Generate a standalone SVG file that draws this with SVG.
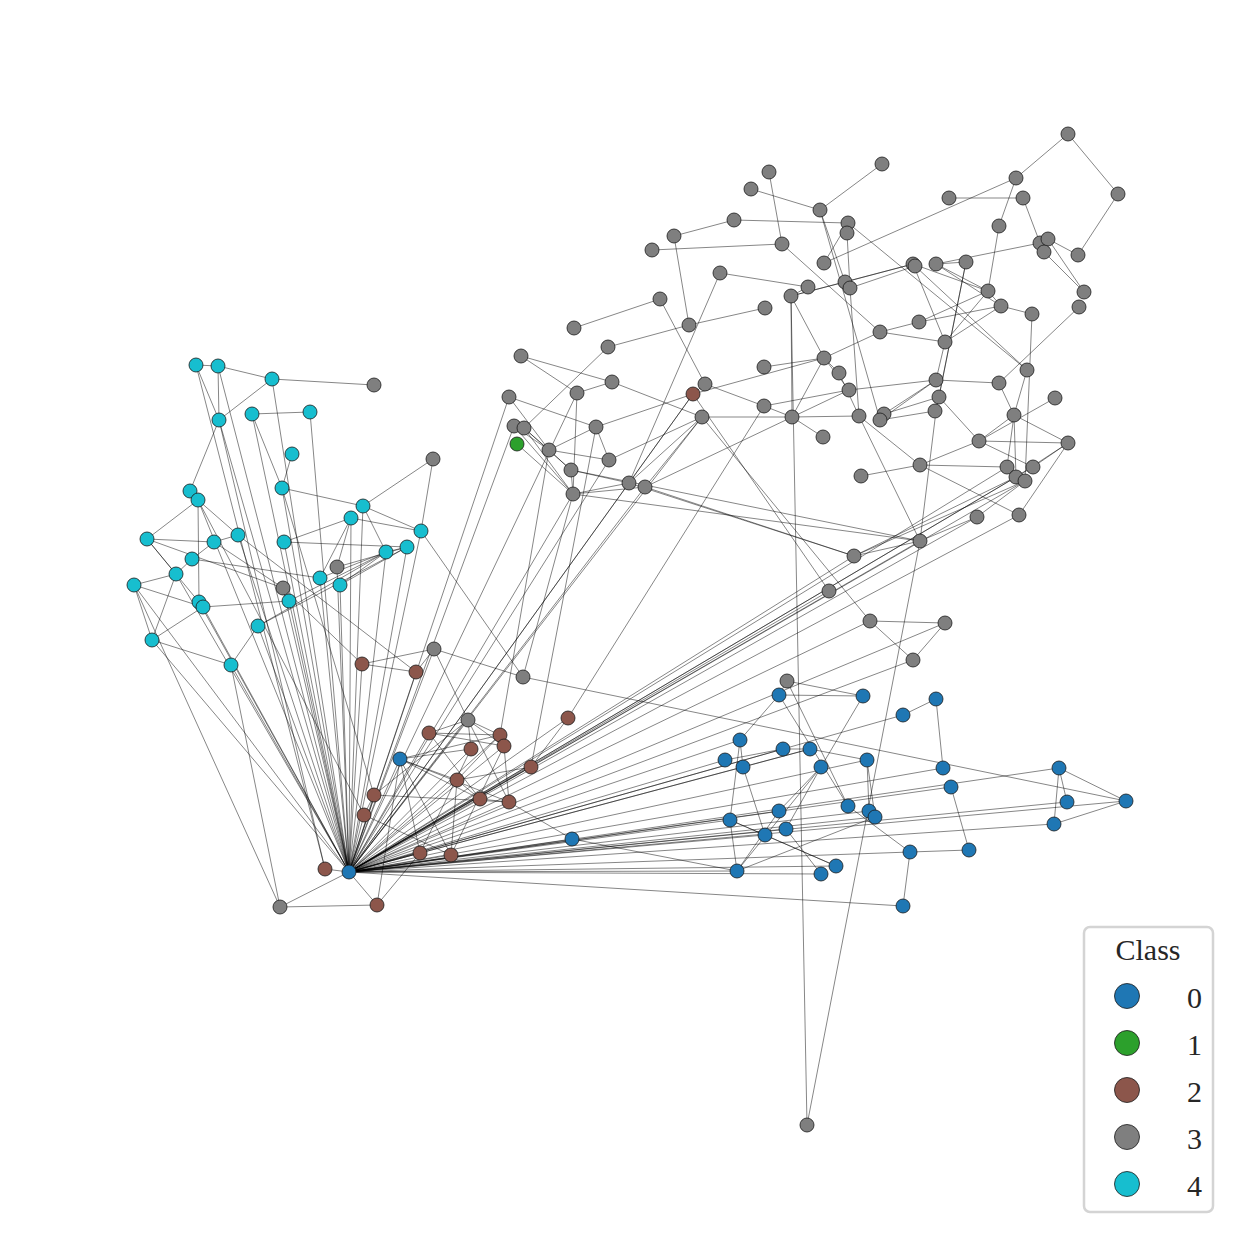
<svg xmlns="http://www.w3.org/2000/svg" width="1260" height="1260" viewBox="0 0 1260 1260">
<style>
.e line{stroke:#000;stroke-opacity:0.5;stroke-width:0.95}
.n circle{stroke:#1a1a1a;stroke-width:0.8}
.k0{fill:#1f77b4}.k1{fill:#2ca02c}.k2{fill:#8c564b}.k3{fill:#7f7f7f}.k4{fill:#17becf}
.t{font-family:"Liberation Serif","Times New Roman",serif;font-size:30px;fill:#262626}
</style>
<rect width="1260" height="1260" fill="#fff"/>
<g id="edges" class="e">
<line x1="196" y1="365" x2="218" y2="366"/><line x1="196" y1="365" x2="219" y2="420"/><line x1="218" y1="366" x2="219" y2="420"/><line x1="218" y1="366" x2="272" y2="379"/><line x1="218" y1="366" x2="349" y2="872"/><line x1="196" y1="365" x2="325" y2="869"/>
<line x1="272" y1="379" x2="374" y2="385"/><line x1="272" y1="379" x2="219" y2="420"/><line x1="272" y1="379" x2="349" y2="872"/><line x1="219" y1="420" x2="190" y2="491"/><line x1="219" y1="420" x2="349" y2="872"/><line x1="219" y1="420" x2="325" y2="869"/>
<line x1="252" y1="414" x2="310" y2="412"/><line x1="252" y1="414" x2="282" y2="488"/><line x1="252" y1="414" x2="349" y2="872"/><line x1="310" y1="412" x2="349" y2="872"/><line x1="292" y1="454" x2="282" y2="488"/><line x1="282" y1="488" x2="363" y2="506"/><line x1="282" y1="488" x2="349" y2="872"/><line x1="282" y1="488" x2="374" y2="795"/>
<line x1="363" y1="506" x2="433" y2="459"/><line x1="363" y1="506" x2="421" y2="531"/><line x1="363" y1="506" x2="386" y2="552"/><line x1="363" y1="506" x2="349" y2="872"/><line x1="351" y1="518" x2="284" y2="542"/><line x1="351" y1="518" x2="421" y2="531"/><line x1="351" y1="518" x2="349" y2="872"/><line x1="351" y1="518" x2="320" y2="578"/>
<line x1="421" y1="531" x2="433" y2="459"/><line x1="421" y1="531" x2="523" y2="677"/><line x1="421" y1="531" x2="349" y2="872"/>
<line x1="190" y1="491" x2="198" y2="500"/><line x1="198" y1="500" x2="147" y2="539"/><line x1="198" y1="500" x2="238" y2="535"/><line x1="198" y1="500" x2="349" y2="872"/><line x1="198" y1="500" x2="199" y2="602"/><line x1="198" y1="500" x2="364" y2="815"/>
<line x1="147" y1="539" x2="214" y2="542"/><line x1="147" y1="539" x2="283" y2="588"/><line x1="147" y1="539" x2="176" y2="574"/><line x1="147" y1="539" x2="203" y2="607"/><line x1="214" y1="542" x2="238" y2="535"/><line x1="214" y1="542" x2="192" y2="559"/><line x1="214" y1="542" x2="283" y2="588"/>
<line x1="238" y1="535" x2="416" y2="672"/><line x1="238" y1="535" x2="349" y2="872"/><line x1="284" y1="542" x2="407" y2="547"/><line x1="284" y1="542" x2="349" y2="872"/><line x1="386" y1="552" x2="407" y2="547"/><line x1="386" y1="552" x2="258" y2="626"/><line x1="407" y1="547" x2="258" y2="626"/><line x1="386" y1="552" x2="349" y2="872"/><line x1="407" y1="547" x2="349" y2="872"/>
<line x1="192" y1="559" x2="176" y2="574"/><line x1="192" y1="559" x2="320" y2="578"/><line x1="176" y1="574" x2="134" y2="585"/><line x1="176" y1="574" x2="152" y2="640"/><line x1="176" y1="574" x2="349" y2="872"/><line x1="134" y1="585" x2="152" y2="640"/><line x1="134" y1="585" x2="203" y2="607"/><line x1="134" y1="585" x2="280" y2="907"/><line x1="134" y1="585" x2="349" y2="872"/>
<line x1="320" y1="578" x2="386" y2="552"/><line x1="340" y1="585" x2="386" y2="552"/><line x1="340" y1="585" x2="407" y2="547"/><line x1="320" y1="578" x2="349" y2="872"/><line x1="340" y1="585" x2="349" y2="872"/><line x1="289" y1="601" x2="203" y2="607"/><line x1="289" y1="601" x2="386" y2="552"/><line x1="289" y1="601" x2="349" y2="872"/>
<line x1="203" y1="607" x2="152" y2="640"/><line x1="199" y1="602" x2="349" y2="872"/><line x1="203" y1="607" x2="349" y2="872"/><line x1="258" y1="626" x2="231" y2="665"/><line x1="258" y1="626" x2="349" y2="872"/><line x1="152" y1="640" x2="231" y2="665"/><line x1="152" y1="640" x2="349" y2="872"/><line x1="231" y1="665" x2="280" y2="907"/><line x1="231" y1="665" x2="349" y2="872"/>
<line x1="337" y1="567" x2="351" y2="518"/><line x1="337" y1="567" x2="407" y2="547"/><line x1="337" y1="567" x2="349" y2="872"/><line x1="283" y1="588" x2="362" y2="664"/><line x1="283" y1="588" x2="349" y2="872"/>
<line x1="362" y1="664" x2="434" y2="649"/><line x1="362" y1="664" x2="416" y2="672"/><line x1="362" y1="664" x2="349" y2="872"/><line x1="416" y1="672" x2="434" y2="649"/><line x1="416" y1="672" x2="349" y2="872"/><line x1="434" y1="649" x2="523" y2="677"/><line x1="434" y1="649" x2="468" y2="720"/><line x1="434" y1="649" x2="349" y2="872"/>
<line x1="523" y1="677" x2="1126" y2="801"/><line x1="523" y1="677" x2="573" y2="494"/>
<line x1="468" y1="720" x2="429" y2="733"/><line x1="468" y1="720" x2="500" y2="735"/><line x1="468" y1="720" x2="471" y2="749"/><line x1="468" y1="720" x2="509" y2="802"/><line x1="468" y1="720" x2="374" y2="795"/><line x1="468" y1="720" x2="349" y2="872"/><line x1="468" y1="720" x2="504" y2="746"/>
<line x1="568" y1="718" x2="531" y2="767"/><line x1="568" y1="718" x2="349" y2="872"/><line x1="568" y1="718" x2="764" y2="406"/>
<line x1="429" y1="733" x2="500" y2="735"/><line x1="429" y1="733" x2="504" y2="746"/><line x1="429" y1="733" x2="480" y2="799"/><line x1="429" y1="733" x2="349" y2="872"/><line x1="500" y1="735" x2="457" y2="780"/><line x1="500" y1="735" x2="349" y2="872"/><line x1="504" y1="746" x2="509" y2="802"/><line x1="504" y1="746" x2="451" y2="855"/><line x1="504" y1="746" x2="349" y2="872"/>
<line x1="471" y1="749" x2="420" y2="853"/><line x1="471" y1="749" x2="349" y2="872"/><line x1="531" y1="767" x2="349" y2="872"/><line x1="531" y1="767" x2="457" y2="780"/><line x1="457" y1="780" x2="480" y2="799"/><line x1="457" y1="780" x2="451" y2="855"/><line x1="457" y1="780" x2="349" y2="872"/>
<line x1="374" y1="795" x2="509" y2="802"/><line x1="374" y1="795" x2="349" y2="872"/><line x1="374" y1="795" x2="364" y2="815"/><line x1="480" y1="799" x2="509" y2="802"/><line x1="480" y1="799" x2="349" y2="872"/><line x1="509" y1="802" x2="572" y2="839"/><line x1="509" y1="802" x2="349" y2="872"/>
<line x1="364" y1="815" x2="349" y2="872"/><line x1="364" y1="815" x2="451" y2="855"/><line x1="420" y1="853" x2="349" y2="872"/><line x1="451" y1="855" x2="349" y2="872"/><line x1="325" y1="869" x2="349" y2="872"/><line x1="377" y1="905" x2="349" y2="872"/><line x1="377" y1="905" x2="280" y2="907"/><line x1="377" y1="905" x2="420" y2="853"/><line x1="377" y1="905" x2="400" y2="759"/><line x1="280" y1="907" x2="349" y2="872"/>
<line x1="400" y1="759" x2="349" y2="872"/><line x1="400" y1="759" x2="480" y2="799"/><line x1="400" y1="759" x2="509" y2="802"/><line x1="400" y1="759" x2="420" y2="853"/><line x1="400" y1="759" x2="451" y2="855"/><line x1="400" y1="759" x2="471" y2="749"/><line x1="400" y1="759" x2="500" y2="735"/><line x1="400" y1="759" x2="457" y2="780"/>
<line x1="572" y1="839" x2="349" y2="872"/><line x1="572" y1="839" x2="737" y2="871"/>
<line x1="509" y1="397" x2="349" y2="872"/><line x1="509" y1="397" x2="596" y2="427"/><line x1="509" y1="397" x2="549" y2="450"/><line x1="521" y1="356" x2="612" y2="382"/><line x1="521" y1="356" x2="577" y2="393"/><line x1="612" y1="382" x2="577" y2="393"/><line x1="612" y1="382" x2="702" y2="417"/>
<line x1="574" y1="328" x2="660" y2="299"/><line x1="608" y1="347" x2="689" y2="325"/><line x1="608" y1="347" x2="524" y2="428"/><line x1="689" y1="325" x2="765" y2="308"/><line x1="689" y1="325" x2="674" y2="236"/><line x1="660" y1="299" x2="705" y2="384"/>
<line x1="720" y1="273" x2="808" y2="287"/><line x1="720" y1="273" x2="629" y2="483"/><line x1="808" y1="287" x2="791" y2="296"/><line x1="791" y1="296" x2="913" y2="264"/><line x1="791" y1="296" x2="845" y2="282"/><line x1="791" y1="296" x2="792" y2="417"/><line x1="791" y1="296" x2="824" y2="358"/><line x1="791" y1="296" x2="807" y2="1125"/>
<line x1="764" y1="367" x2="824" y2="358"/><line x1="705" y1="384" x2="764" y2="406"/><line x1="705" y1="384" x2="693" y2="394"/><line x1="764" y1="406" x2="792" y2="417"/><line x1="764" y1="406" x2="849" y2="390"/><line x1="792" y1="417" x2="702" y2="417"/><line x1="792" y1="417" x2="859" y2="416"/><line x1="792" y1="417" x2="823" y2="437"/><line x1="792" y1="417" x2="824" y2="358"/>
<line x1="693" y1="394" x2="596" y2="427"/><line x1="693" y1="394" x2="824" y2="358"/><line x1="693" y1="394" x2="829" y2="591"/><line x1="693" y1="394" x2="349" y2="872"/><line x1="693" y1="394" x2="629" y2="483"/>
<line x1="702" y1="417" x2="609" y2="460"/><line x1="702" y1="417" x2="629" y2="483"/><line x1="702" y1="417" x2="645" y2="487"/><line x1="702" y1="417" x2="870" y2="621"/><line x1="702" y1="417" x2="349" y2="872"/>
<line x1="596" y1="427" x2="549" y2="450"/><line x1="596" y1="427" x2="609" y2="460"/><line x1="596" y1="427" x2="531" y2="767"/><line x1="549" y1="450" x2="609" y2="460"/><line x1="549" y1="450" x2="514" y2="426"/><line x1="549" y1="450" x2="524" y2="428"/><line x1="549" y1="450" x2="571" y2="470"/><line x1="549" y1="450" x2="500" y2="735"/>
<line x1="577" y1="393" x2="573" y2="494"/><line x1="577" y1="393" x2="349" y2="872"/><line x1="524" y1="428" x2="571" y2="470"/><line x1="524" y1="428" x2="573" y2="494"/><line x1="514" y1="426" x2="573" y2="494"/><line x1="517" y1="444" x2="573" y2="494"/><line x1="514" y1="426" x2="349" y2="872"/>
<line x1="571" y1="470" x2="629" y2="483"/><line x1="571" y1="470" x2="573" y2="494"/><line x1="571" y1="470" x2="920" y2="541"/><line x1="573" y1="494" x2="629" y2="483"/><line x1="573" y1="494" x2="645" y2="487"/><line x1="573" y1="494" x2="920" y2="541"/><line x1="573" y1="494" x2="349" y2="872"/>
<line x1="645" y1="487" x2="854" y2="556"/><line x1="629" y1="483" x2="854" y2="556"/><line x1="629" y1="483" x2="349" y2="872"/><line x1="645" y1="487" x2="349" y2="872"/><line x1="609" y1="460" x2="349" y2="872"/><line x1="645" y1="487" x2="849" y2="390"/>
<line x1="882" y1="164" x2="820" y2="210"/><line x1="751" y1="189" x2="820" y2="210"/><line x1="769" y1="172" x2="782" y2="244"/><line x1="734" y1="220" x2="848" y2="223"/><line x1="734" y1="220" x2="674" y2="236"/><line x1="652" y1="250" x2="782" y2="244"/><line x1="820" y1="210" x2="845" y2="282"/><line x1="820" y1="210" x2="880" y2="420"/>
<line x1="848" y1="223" x2="824" y2="263"/><line x1="848" y1="223" x2="1027" y2="370"/><line x1="847" y1="233" x2="850" y2="288"/><line x1="824" y1="263" x2="1016" y2="178"/><line x1="782" y1="244" x2="880" y2="332"/><line x1="845" y1="282" x2="913" y2="264"/><line x1="850" y1="288" x2="915" y2="266"/><line x1="850" y1="288" x2="859" y2="416"/>
<line x1="880" y1="332" x2="919" y2="322"/><line x1="880" y1="332" x2="945" y2="342"/><line x1="824" y1="358" x2="880" y2="332"/><line x1="824" y1="358" x2="839" y2="373"/><line x1="824" y1="358" x2="849" y2="390"/><line x1="839" y1="373" x2="859" y2="416"/><line x1="849" y1="390" x2="936" y2="380"/><line x1="936" y1="380" x2="884" y2="414"/><line x1="936" y1="380" x2="880" y2="420"/><line x1="939" y1="397" x2="884" y2="414"/><line x1="935" y1="411" x2="880" y2="420"/><line x1="945" y1="342" x2="936" y2="380"/><line x1="913" y1="264" x2="945" y2="342"/>
<line x1="1068" y1="134" x2="1016" y2="178"/><line x1="1068" y1="134" x2="1118" y2="194"/><line x1="1118" y1="194" x2="1078" y2="255"/><line x1="1016" y1="178" x2="999" y2="226"/><line x1="949" y1="198" x2="1023" y2="198"/><line x1="1023" y1="198" x2="1040" y2="243"/><line x1="999" y1="226" x2="988" y2="291"/><line x1="1040" y1="243" x2="936" y2="264"/>
<line x1="1048" y1="239" x2="1078" y2="255"/><line x1="1048" y1="239" x2="1084" y2="292"/><line x1="1044" y1="252" x2="1084" y2="292"/><line x1="913" y1="264" x2="988" y2="291"/><line x1="936" y1="264" x2="988" y2="291"/><line x1="988" y1="291" x2="1001" y2="306"/><line x1="936" y1="264" x2="1001" y2="306"/><line x1="1001" y1="306" x2="1032" y2="314"/><line x1="1032" y1="314" x2="1025" y2="481"/><line x1="1079" y1="307" x2="999" y2="383"/>
<line x1="988" y1="291" x2="919" y2="322"/><line x1="1001" y1="306" x2="919" y2="322"/><line x1="966" y1="262" x2="936" y2="264"/><line x1="966" y1="262" x2="939" y2="397"/><line x1="966" y1="262" x2="936" y2="411"/><line x1="1001" y1="306" x2="945" y2="342"/><line x1="988" y1="291" x2="945" y2="342"/><line x1="915" y1="266" x2="1027" y2="370"/>
<line x1="1027" y1="370" x2="1014" y2="415"/><line x1="999" y1="383" x2="936" y2="380"/><line x1="999" y1="383" x2="1014" y2="415"/><line x1="1055" y1="398" x2="979" y2="441"/><line x1="1014" y1="415" x2="979" y2="441"/><line x1="1014" y1="415" x2="1068" y2="443"/><line x1="1014" y1="415" x2="1007" y2="467"/><line x1="1014" y1="415" x2="1016" y2="477"/>
<line x1="979" y1="441" x2="1068" y2="443"/><line x1="979" y1="441" x2="939" y2="397"/><line x1="979" y1="441" x2="920" y2="465"/><line x1="979" y1="441" x2="1033" y2="467"/><line x1="1068" y1="443" x2="1033" y2="467"/><line x1="1068" y1="443" x2="1016" y2="477"/><line x1="1068" y1="443" x2="1019" y2="515"/>
<line x1="920" y1="465" x2="1007" y2="467"/><line x1="920" y1="465" x2="861" y2="476"/><line x1="920" y1="465" x2="859" y2="416"/><line x1="920" y1="465" x2="1019" y2="515"/><line x1="936" y1="411" x2="920" y2="541"/><line x1="859" y1="416" x2="920" y2="541"/><line x1="977" y1="517" x2="1025" y2="481"/><line x1="920" y1="541" x2="854" y2="556"/><line x1="920" y1="541" x2="977" y2="517"/><line x1="854" y1="556" x2="1016" y2="477"/><line x1="854" y1="556" x2="1025" y2="481"/><line x1="807" y1="1125" x2="920" y2="541"/>
<line x1="349" y1="872" x2="1007" y2="467"/><line x1="349" y1="872" x2="1033" y2="467"/><line x1="349" y1="872" x2="1016" y2="477"/><line x1="349" y1="872" x2="1025" y2="481"/><line x1="349" y1="872" x2="977" y2="517"/><line x1="349" y1="872" x2="1019" y2="515"/><line x1="349" y1="872" x2="920" y2="541"/><line x1="349" y1="872" x2="854" y2="556"/><line x1="349" y1="872" x2="829" y2="591"/><line x1="349" y1="872" x2="870" y2="621"/><line x1="349" y1="872" x2="945" y2="623"/><line x1="349" y1="872" x2="913" y2="660"/>
<line x1="870" y1="621" x2="945" y2="623"/><line x1="870" y1="621" x2="913" y2="660"/><line x1="945" y1="623" x2="913" y2="660"/>
<line x1="787" y1="681" x2="863" y2="696"/><line x1="787" y1="681" x2="779" y2="695"/><line x1="787" y1="681" x2="848" y2="806"/>
<line x1="779" y1="695" x2="863" y2="696"/><line x1="779" y1="695" x2="740" y2="740"/><line x1="779" y1="695" x2="848" y2="806"/><line x1="863" y1="696" x2="821" y2="767"/><line x1="936" y1="699" x2="903" y2="715"/><line x1="936" y1="699" x2="943" y2="768"/><line x1="740" y1="740" x2="743" y2="767"/><line x1="740" y1="740" x2="730" y2="820"/>
<line x1="783" y1="749" x2="810" y2="749"/><line x1="810" y1="749" x2="867" y2="760"/><line x1="725" y1="760" x2="783" y2="749"/><line x1="743" y1="767" x2="810" y2="749"/><line x1="821" y1="767" x2="779" y2="811"/><line x1="821" y1="767" x2="737" y2="871"/><line x1="821" y1="767" x2="786" y2="829"/><line x1="867" y1="760" x2="875" y2="817"/><line x1="867" y1="760" x2="869" y2="811"/><line x1="743" y1="767" x2="765" y2="835"/>
<line x1="730" y1="820" x2="737" y2="871"/><line x1="730" y1="820" x2="765" y2="835"/><line x1="730" y1="820" x2="836" y2="866"/><line x1="765" y1="835" x2="836" y2="866"/><line x1="779" y1="811" x2="737" y2="871"/><line x1="786" y1="829" x2="821" y2="874"/><line x1="848" y1="806" x2="910" y2="852"/><line x1="910" y1="852" x2="969" y2="850"/><line x1="910" y1="852" x2="903" y2="906"/><line x1="951" y1="787" x2="969" y2="850"/><line x1="875" y1="817" x2="737" y2="871"/>
<line x1="1059" y1="768" x2="1067" y2="802"/><line x1="1059" y1="768" x2="1054" y2="824"/><line x1="1059" y1="768" x2="1126" y2="801"/><line x1="1054" y1="824" x2="1126" y2="801"/>
<line x1="349" y1="872" x2="1059" y2="768"/><line x1="349" y1="872" x2="1067" y2="802"/><line x1="349" y1="872" x2="1054" y2="824"/><line x1="349" y1="872" x2="1126" y2="801"/><line x1="349" y1="872" x2="903" y2="715"/><line x1="349" y1="872" x2="740" y2="740"/><line x1="349" y1="872" x2="783" y2="749"/><line x1="349" y1="872" x2="810" y2="749"/><line x1="349" y1="872" x2="725" y2="760"/><line x1="349" y1="872" x2="743" y2="767"/><line x1="349" y1="872" x2="867" y2="760"/><line x1="349" y1="872" x2="943" y2="768"/><line x1="349" y1="872" x2="951" y2="787"/>
<line x1="349" y1="872" x2="869" y2="811"/><line x1="349" y1="872" x2="875" y2="817"/><line x1="349" y1="872" x2="779" y2="811"/><line x1="349" y1="872" x2="730" y2="820"/><line x1="349" y1="872" x2="765" y2="835"/><line x1="349" y1="872" x2="786" y2="829"/><line x1="349" y1="872" x2="910" y2="852"/><line x1="349" y1="872" x2="737" y2="871"/><line x1="349" y1="872" x2="836" y2="866"/><line x1="349" y1="872" x2="821" y2="874"/><line x1="349" y1="872" x2="903" y2="906"/>
</g>
<g id="nodes" class="n">
<g id="n_c1"><circle class="k4" cx="196" cy="365" r="7"/></g>
<g id="n_c2"><circle class="k4" cx="218" cy="366" r="7"/></g>
<g id="n_c3"><circle class="k4" cx="272" cy="379" r="7"/></g>
<g id="n_c4"><circle class="k4" cx="219" cy="420" r="7"/></g>
<g id="n_c5"><circle class="k4" cx="252" cy="414" r="7"/></g>
<g id="n_c6"><circle class="k4" cx="310" cy="412" r="7"/></g>
<g id="n_c7"><circle class="k4" cx="292" cy="454" r="7"/></g>
<g id="n_c8"><circle class="k4" cx="190" cy="491" r="7"/></g>
<g id="n_c9"><circle class="k4" cx="198" cy="500" r="7"/></g>
<g id="n_c10"><circle class="k4" cx="282" cy="488" r="7"/></g>
<g id="n_c11"><circle class="k4" cx="363" cy="506" r="7"/></g>
<g id="n_c12"><circle class="k4" cx="351" cy="518" r="7"/></g>
<g id="n_c13"><circle class="k4" cx="421" cy="531" r="7"/></g>
<g id="n_c14"><circle class="k4" cx="147" cy="539" r="7"/></g>
<g id="n_c15"><circle class="k4" cx="214" cy="542" r="7"/></g>
<g id="n_c16"><circle class="k4" cx="238" cy="535" r="7"/></g>
<g id="n_c17"><circle class="k4" cx="284" cy="542" r="7"/></g>
<g id="n_c18"><circle class="k4" cx="386" cy="552" r="7"/></g>
<g id="n_c19"><circle class="k4" cx="407" cy="547" r="7"/></g>
<g id="n_c20"><circle class="k4" cx="192" cy="559" r="7"/></g>
<g id="n_c21"><circle class="k4" cx="176" cy="574" r="7"/></g>
<g id="n_c22"><circle class="k4" cx="134" cy="585" r="7"/></g>
<g id="n_c23"><circle class="k4" cx="320" cy="578" r="7"/></g>
<g id="n_c24"><circle class="k4" cx="340" cy="585" r="7"/></g>
<g id="n_c25"><circle class="k4" cx="289" cy="601" r="7"/></g>
<g id="n_c26"><circle class="k4" cx="199" cy="602" r="7"/></g>
<g id="n_c27"><circle class="k4" cx="203" cy="607" r="7"/></g>
<g id="n_c28"><circle class="k4" cx="258" cy="626" r="7"/></g>
<g id="n_c29"><circle class="k4" cx="152" cy="640" r="7"/></g>
<g id="n_c30"><circle class="k4" cx="231" cy="665" r="7"/></g>
<g id="n_g1"><circle class="k3" cx="374" cy="385" r="7"/></g>
<g id="n_g2"><circle class="k3" cx="433" cy="459" r="7"/></g>
<g id="n_g3"><circle class="k3" cx="337" cy="567" r="7"/></g>
<g id="n_g4"><circle class="k3" cx="283" cy="588" r="7"/></g>
<g id="n_g5"><circle class="k3" cx="434" cy="649" r="7"/></g>
<g id="n_g6"><circle class="k3" cx="523" cy="677" r="7"/></g>
<g id="n_g7"><circle class="k3" cx="468" cy="720" r="7"/></g>
<g id="n_g8"><circle class="k3" cx="280" cy="907" r="7"/></g>
<g id="n_g9"><circle class="k3" cx="807" cy="1125" r="7"/></g>
<g id="n_g10"><circle class="k3" cx="787" cy="681" r="7"/></g>
<g id="n_g11"><circle class="k3" cx="720" cy="273" r="7"/></g>
<g id="n_g12"><circle class="k3" cx="808" cy="287" r="7"/></g>
<g id="n_g13"><circle class="k3" cx="791" cy="296" r="7"/></g>
<g id="n_g14"><circle class="k3" cx="660" cy="299" r="7"/></g>
<g id="n_g15"><circle class="k3" cx="765" cy="308" r="7"/></g>
<g id="n_g16"><circle class="k3" cx="574" cy="328" r="7"/></g>
<g id="n_g17"><circle class="k3" cx="689" cy="325" r="7"/></g>
<g id="n_g18"><circle class="k3" cx="608" cy="347" r="7"/></g>
<g id="n_g19"><circle class="k3" cx="521" cy="356" r="7"/></g>
<g id="n_g20"><circle class="k3" cx="764" cy="367" r="7"/></g>
<g id="n_g21"><circle class="k3" cx="612" cy="382" r="7"/></g>
<g id="n_g22"><circle class="k3" cx="577" cy="393" r="7"/></g>
<g id="n_g23"><circle class="k3" cx="705" cy="384" r="7"/></g>
<g id="n_g24"><circle class="k3" cx="509" cy="397" r="7"/></g>
<g id="n_g25"><circle class="k3" cx="764" cy="406" r="7"/></g>
<g id="n_g26"><circle class="k3" cx="792" cy="417" r="7"/></g>
<g id="n_g27"><circle class="k3" cx="702" cy="417" r="7"/></g>
<g id="n_g28"><circle class="k3" cx="514" cy="426" r="7"/></g>
<g id="n_g29"><circle class="k3" cx="524" cy="428" r="7"/></g>
<g id="n_g30"><circle class="k3" cx="596" cy="427" r="7"/></g>
<g id="n_g31"><circle class="k3" cx="549" cy="450" r="7"/></g>
<g id="n_g32"><circle class="k3" cx="609" cy="460" r="7"/></g>
<g id="n_g33"><circle class="k3" cx="571" cy="470" r="7"/></g>
<g id="n_g34"><circle class="k3" cx="629" cy="483" r="7"/></g>
<g id="n_g35"><circle class="k3" cx="645" cy="487" r="7"/></g>
<g id="n_g36"><circle class="k3" cx="573" cy="494" r="7"/></g>
<g id="n_g37"><circle class="k3" cx="882" cy="164" r="7"/></g>
<g id="n_g38"><circle class="k3" cx="769" cy="172" r="7"/></g>
<g id="n_g39"><circle class="k3" cx="751" cy="189" r="7"/></g>
<g id="n_g40"><circle class="k3" cx="820" cy="210" r="7"/></g>
<g id="n_g41"><circle class="k3" cx="734" cy="220" r="7"/></g>
<g id="n_g42"><circle class="k3" cx="848" cy="223" r="7"/></g>
<g id="n_g43"><circle class="k3" cx="847" cy="233" r="7"/></g>
<g id="n_g44"><circle class="k3" cx="674" cy="236" r="7"/></g>
<g id="n_g45"><circle class="k3" cx="652" cy="250" r="7"/></g>
<g id="n_g46"><circle class="k3" cx="782" cy="244" r="7"/></g>
<g id="n_g47"><circle class="k3" cx="824" cy="263" r="7"/></g>
<g id="n_g48"><circle class="k3" cx="913" cy="264" r="7"/></g>
<g id="n_g48b"><circle class="k3" cx="915" cy="266" r="7"/></g>
<g id="n_g49"><circle class="k3" cx="936" cy="264" r="7"/></g>
<g id="n_g50"><circle class="k3" cx="845" cy="282" r="7"/></g>
<g id="n_g51"><circle class="k3" cx="850" cy="288" r="7"/></g>
<g id="n_g52"><circle class="k3" cx="880" cy="332" r="7"/></g>
<g id="n_g53"><circle class="k3" cx="919" cy="322" r="7"/></g>
<g id="n_g54"><circle class="k3" cx="945" cy="342" r="7"/></g>
<g id="n_g55"><circle class="k3" cx="824" cy="358" r="7"/></g>
<g id="n_g56"><circle class="k3" cx="839" cy="373" r="7"/></g>
<g id="n_g57"><circle class="k3" cx="936" cy="380" r="7"/></g>
<g id="n_g58"><circle class="k3" cx="849" cy="390" r="7"/></g>
<g id="n_g59"><circle class="k3" cx="859" cy="416" r="7"/></g>
<g id="n_g60"><circle class="k3" cx="884" cy="414" r="7"/></g>
<g id="n_g61"><circle class="k3" cx="880" cy="420" r="7"/></g>
<g id="n_g62"><circle class="k3" cx="939" cy="397" r="7"/></g>
<g id="n_g63"><circle class="k3" cx="935" cy="411" r="7"/></g>
<g id="n_g64"><circle class="k3" cx="823" cy="437" r="7"/></g>
<g id="n_g65"><circle class="k3" cx="1068" cy="134" r="7"/></g>
<g id="n_g66"><circle class="k3" cx="1016" cy="178" r="7"/></g>
<g id="n_g67"><circle class="k3" cx="1118" cy="194" r="7"/></g>
<g id="n_g68"><circle class="k3" cx="949" cy="198" r="7"/></g>
<g id="n_g69"><circle class="k3" cx="1023" cy="198" r="7"/></g>
<g id="n_g70"><circle class="k3" cx="999" cy="226" r="7"/></g>
<g id="n_g71"><circle class="k3" cx="1040" cy="243" r="7"/></g>
<g id="n_g72"><circle class="k3" cx="1048" cy="239" r="7"/></g>
<g id="n_g73"><circle class="k3" cx="1044" cy="252" r="7"/></g>
<g id="n_g74"><circle class="k3" cx="1078" cy="255" r="7"/></g>
<g id="n_g75"><circle class="k3" cx="966" cy="262" r="7"/></g>
<g id="n_g76"><circle class="k3" cx="988" cy="291" r="7"/></g>
<g id="n_g77"><circle class="k3" cx="1084" cy="292" r="7"/></g>
<g id="n_g78"><circle class="k3" cx="1001" cy="306" r="7"/></g>
<g id="n_g79"><circle class="k3" cx="1079" cy="307" r="7"/></g>
<g id="n_g80"><circle class="k3" cx="1032" cy="314" r="7"/></g>
<g id="n_g81"><circle class="k3" cx="1027" cy="370" r="7"/></g>
<g id="n_g82"><circle class="k3" cx="999" cy="383" r="7"/></g>
<g id="n_g83"><circle class="k3" cx="1055" cy="398" r="7"/></g>
<g id="n_g84"><circle class="k3" cx="1014" cy="415" r="7"/></g>
<g id="n_g85"><circle class="k3" cx="979" cy="441" r="7"/></g>
<g id="n_g86"><circle class="k3" cx="1068" cy="443" r="7"/></g>
<g id="n_g87"><circle class="k3" cx="920" cy="465" r="7"/></g>
<g id="n_g88"><circle class="k3" cx="1007" cy="467" r="7"/></g>
<g id="n_g89"><circle class="k3" cx="1033" cy="467" r="7"/></g>
<g id="n_g90"><circle class="k3" cx="1016" cy="477" r="7"/></g>
<g id="n_g91"><circle class="k3" cx="1025" cy="481" r="7"/></g>
<g id="n_g92"><circle class="k3" cx="977" cy="517" r="7"/></g>
<g id="n_g93"><circle class="k3" cx="1019" cy="515" r="7"/></g>
<g id="n_g94"><circle class="k3" cx="920" cy="541" r="7"/></g>
<g id="n_g95"><circle class="k3" cx="861" cy="476" r="7"/></g>
<g id="n_g96"><circle class="k3" cx="854" cy="556" r="7"/></g>
<g id="n_g97"><circle class="k3" cx="829" cy="591" r="7"/></g>
<g id="n_g98"><circle class="k3" cx="870" cy="621" r="7"/></g>
<g id="n_g99"><circle class="k3" cx="945" cy="623" r="7"/></g>
<g id="n_g100"><circle class="k3" cx="913" cy="660" r="7"/></g>
<g id="n_b1"><circle class="k2" cx="693" cy="394" r="7"/></g>
<g id="n_b2"><circle class="k2" cx="362" cy="664" r="7"/></g>
<g id="n_b3"><circle class="k2" cx="416" cy="672" r="7"/></g>
<g id="n_b4"><circle class="k2" cx="568" cy="718" r="7"/></g>
<g id="n_b5"><circle class="k2" cx="429" cy="733" r="7"/></g>
<g id="n_b6"><circle class="k2" cx="500" cy="735" r="7"/></g>
<g id="n_b7"><circle class="k2" cx="504" cy="746" r="7"/></g>
<g id="n_b8"><circle class="k2" cx="471" cy="749" r="7"/></g>
<g id="n_b9"><circle class="k2" cx="531" cy="767" r="7"/></g>
<g id="n_b10"><circle class="k2" cx="457" cy="780" r="7"/></g>
<g id="n_b11"><circle class="k2" cx="374" cy="795" r="7"/></g>
<g id="n_b12"><circle class="k2" cx="480" cy="799" r="7"/></g>
<g id="n_b13"><circle class="k2" cx="509" cy="802" r="7"/></g>
<g id="n_b14"><circle class="k2" cx="364" cy="815" r="7"/></g>
<g id="n_b15"><circle class="k2" cx="420" cy="853" r="7"/></g>
<g id="n_b16"><circle class="k2" cx="451" cy="855" r="7"/></g>
<g id="n_b17"><circle class="k2" cx="325" cy="869" r="7"/></g>
<g id="n_b18"><circle class="k2" cx="377" cy="905" r="7"/></g>
<g id="n_gr1"><circle class="k1" cx="517" cy="444" r="7"/></g>
<g id="n_hub"><circle class="k0" cx="349" cy="872" r="7"/></g>
<g id="n_u1"><circle class="k0" cx="400" cy="759" r="7"/></g>
<g id="n_u2"><circle class="k0" cx="572" cy="839" r="7"/></g>
<g id="n_u3"><circle class="k0" cx="779" cy="695" r="7"/></g>
<g id="n_u4"><circle class="k0" cx="863" cy="696" r="7"/></g>
<g id="n_u5"><circle class="k0" cx="936" cy="699" r="7"/></g>
<g id="n_u6"><circle class="k0" cx="903" cy="715" r="7"/></g>
<g id="n_u7"><circle class="k0" cx="740" cy="740" r="7"/></g>
<g id="n_u8"><circle class="k0" cx="783" cy="749" r="7"/></g>
<g id="n_u9"><circle class="k0" cx="810" cy="749" r="7"/></g>
<g id="n_u10"><circle class="k0" cx="725" cy="760" r="7"/></g>
<g id="n_u11"><circle class="k0" cx="743" cy="767" r="7"/></g>
<g id="n_u12"><circle class="k0" cx="821" cy="767" r="7"/></g>
<g id="n_u13"><circle class="k0" cx="867" cy="760" r="7"/></g>
<g id="n_u14"><circle class="k0" cx="943" cy="768" r="7"/></g>
<g id="n_u15"><circle class="k0" cx="1059" cy="768" r="7"/></g>
<g id="n_u16"><circle class="k0" cx="951" cy="787" r="7"/></g>
<g id="n_u17"><circle class="k0" cx="1126" cy="801" r="7"/></g>
<g id="n_u18"><circle class="k0" cx="1067" cy="802" r="7"/></g>
<g id="n_u19"><circle class="k0" cx="848" cy="806" r="7"/></g>
<g id="n_u20"><circle class="k0" cx="869" cy="811" r="7"/></g>
<g id="n_u21"><circle class="k0" cx="875" cy="817" r="7"/></g>
<g id="n_u22"><circle class="k0" cx="779" cy="811" r="7"/></g>
<g id="n_u23"><circle class="k0" cx="730" cy="820" r="7"/></g>
<g id="n_u24"><circle class="k0" cx="1054" cy="824" r="7"/></g>
<g id="n_u25"><circle class="k0" cx="765" cy="835" r="7"/></g>
<g id="n_u26"><circle class="k0" cx="786" cy="829" r="7"/></g>
<g id="n_u27"><circle class="k0" cx="910" cy="852" r="7"/></g>
<g id="n_u28"><circle class="k0" cx="969" cy="850" r="7"/></g>
<g id="n_u29"><circle class="k0" cx="737" cy="871" r="7"/></g>
<g id="n_u30"><circle class="k0" cx="836" cy="866" r="7"/></g>
<g id="n_u31"><circle class="k0" cx="821" cy="874" r="7"/></g>
<g id="n_u32"><circle class="k0" cx="903" cy="906" r="7"/></g>
</g>
<g id="legend">
<rect x="1084" y="927" width="129" height="285" rx="6" fill="#fff" stroke="#d4d4d4" stroke-width="2.5"/>
<text class="t" x="1148" y="960" text-anchor="middle">Class</text>
<g class="n">
<circle class="k0" cx="1127" cy="996" r="12.5"/>
<circle class="k1" cx="1127" cy="1043" r="12.5"/>
<circle class="k2" cx="1127" cy="1090" r="12.5"/>
<circle class="k3" cx="1127" cy="1137" r="12.5"/>
<circle class="k4" cx="1127" cy="1184" r="12.5"/>
</g>
<text class="t" x="1202" y="1008" text-anchor="end">0</text>
<text class="t" x="1202" y="1055" text-anchor="end">1</text>
<text class="t" x="1202" y="1102" text-anchor="end">2</text>
<text class="t" x="1202" y="1149" text-anchor="end">3</text>
<text class="t" x="1202" y="1196" text-anchor="end">4</text>
</g>
</svg>
